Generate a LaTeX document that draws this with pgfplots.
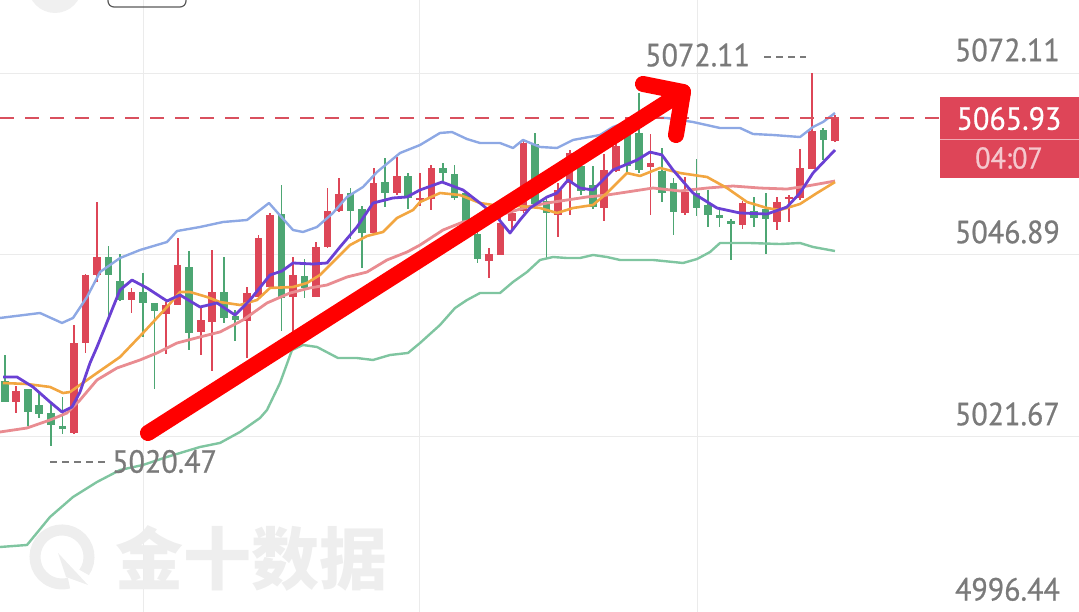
\documentclass[border=0pt]{standalone}
\usepackage{pgfplots}
\pgfplotsset{compat=1.18}
\usepackage{pgfplotstable}
\usepackage{fontspec}
\setmainfont{PT Sans}[FakeBold=0]
\newfontfamily\lab{PT Sans}[FakeBold=0.7]
\newfontfamily\cjk{Noto Sans CJK SC}

\definecolor{cRed}{HTML}{DD4657}
\definecolor{cGreen}{HTML}{4DA673}
\definecolor{cUpper}{HTML}{8DA8E4}
\definecolor{cLower}{HTML}{7FC5A0}
\definecolor{cMid}{HTML}{E98C91}
\definecolor{cMaFive}{HTML}{6A40D4}
\definecolor{cMaTen}{HTML}{F2A640}
\definecolor{cGrid}{HTML}{EBEBEB}
\definecolor{cLabel}{HTML}{7A7A7A}
\definecolor{cBox}{HTML}{DE4558}
\definecolor{cDash}{HTML}{D9505E}
\definecolor{cWm}{HTML}{EEEEEE}

\newcommand\num[1]{\scalebox{0.94}[1]{#1}}

% candles: index, open, high, low, close
\pgfplotstableread{
i O H L C
0 5029.57 5033.03 5026.50 5026.66
1 5026.66 5028.87 5025.13 5028.18
2 5028.32 5028.45 5023.33 5025.13
3 5026.24 5028.18 5024.44 5024.99
4 5024.99 5026.52 5020.47 5023.33
5 5023.33 5027.35 5022.22 5022.91
6 5022.22 5037.19 5022.10 5034.69
7 5034.69 5044.30 5033.31 5044.12
8 5044.12 5054.23 5043.15 5046.61
9 5046.61 5048.14 5038.30 5044.12
10 5043.42 5047.17 5040.65 5040.79
11 5040.79 5042.45 5038.99 5041.90
12 5041.90 5044.53 5035.66 5040.37
13 5040.24 5040.40 5028.46 5039.13
14 5038.85 5040.37 5033.17 5040.10
15 5040.10 5049.38 5040.00 5045.64
16 5045.36 5047.58 5033.86 5036.22
17 5036.22 5039.68 5033.03 5037.88
18 5037.60 5047.72 5030.95 5041.76
19 5041.90 5046.61 5037.47 5038.30
20 5038.44 5039.27 5034.97 5037.88
21 5037.88 5042.59 5032.75 5041.76
22 5041.21 5049.80 5041.10 5049.38
23 5042.59 5052.85 5042.50 5052.57
24 5052.71 5056.73 5036.49 5041.07
25 5041.07 5046.61 5035.80 5044.12
26 5044.12 5046.47 5041.07 5042.45
27 5041.21 5048.69 5041.10 5048.14
28 5048.14 5056.31 5048.00 5053.12
29 5053.12 5057.70 5052.99 5055.48
30 5055.62 5056.31 5049.24 5053.12
31 5053.26 5053.82 5045.23 5049.94
32 5049.94 5059.08 5049.80 5057.00
33 5057.00 5060.61 5053.82 5055.48
34 5055.48 5060.61 5055.34 5057.84
35 5057.84 5058.39 5053.40 5054.79
36 5054.51 5058.39 5053.82 5054.79
37 5054.65 5059.36 5053.12 5059.08
38 5058.95 5059.64 5057.00 5058.25
39 5058.25 5059.36 5054.51 5054.93
40 5055.62 5055.90 5049.66 5049.94
41 5049.94 5050.35 5045.78 5046.47
42 5046.20 5047.86 5043.70 5047.17
43 5047.03 5052.43 5046.95 5051.46
44 5051.74 5053.54 5050.35 5052.85
45 5053.12 5063.10 5052.85 5062.41
46 5062.41 5063.93 5053.82 5054.09
47 5054.51 5055.20 5046.61 5052.85
48 5052.43 5056.87 5049.38 5055.90
49 5057.00 5061.44 5052.43 5061.16
50 5059.36 5061.44 5055.20 5055.90
51 5056.59 5059.36 5053.40 5053.54
52 5053.40 5061.02 5051.74 5058.67
53 5058.67 5064.63 5058.39 5062.13
54 5064.21 5066.01 5058.39 5059.36
55 5063.80 5069.34 5058.25 5058.67
56 5059.22 5063.80 5052.57 5059.78
57 5058.67 5061.86 5054.37 5055.62
58 5056.87 5057.56 5049.66 5052.85
59 5052.71 5057.70 5052.43 5055.62
60 5055.62 5060.33 5052.43 5053.54
61 5053.82 5055.90 5050.77 5052.43
62 5052.43 5053.12 5050.77 5052.02
63 5051.74 5051.88 5046.20 5051.32
64 5051.18 5054.51 5050.63 5054.23
65 5053.12 5054.93 5050.77 5052.02
66 5053.40 5055.62 5047.17 5052.02
67 5051.46 5054.93 5050.35 5054.23
68 5054.65 5055.20 5051.46 5054.93
69 5054.79 5061.58 5054.51 5058.95
70 5058.95 5072.11 5058.90 5064.21
71 5064.21 5064.49 5060.05 5062.83
72 5062.83 5066.29 5062.55 5065.93
}\candles

% Bollinger upper band
\pgfplotstableread{
x y
0 5038.16
40 5038.85
62 5037.47
73 5038.16
87 5041.07
100 5044.53
120 5046.47
140 5047.58
167 5048.69
177 5050.21
200 5050.77
223 5051.46
247 5051.74
269 5054.09
293 5050.35
303 5050.08
317 5050.77
333 5052.71
347 5054.93
363 5056.31
377 5058.39
400 5061.02
420 5062.13
440 5063.80
452 5063.93
467 5062.96
480 5062.41
500 5062.41
513 5061.72
523 5062.83
540 5061.86
557 5061.72
573 5062.83
600 5063.52
613 5064.63
640 5066.01
667 5065.87
693 5065.32
720 5064.49
740 5064.49
753 5063.66
773 5063.52
800 5063.24
813 5064.63
823 5065.32
835 5066.57
}\bandup

% Bollinger middle line
\pgfplotstableread{
x y
0 5022.36
27 5022.91
50 5024.02
67 5024.99
80 5026.79
97 5029.57
117 5031.23
140 5032.34
157 5033.31
177 5034.69
200 5035.53
220 5036.22
243 5037.88
267 5040.24
290 5041.62
310 5042.32
327 5042.73
347 5043.84
367 5044.53
387 5046.20
407 5047.30
420 5048.27
443 5050.35
463 5051.46
483 5052.02
507 5052.71
527 5053.54
547 5054.09
567 5054.51
587 5054.93
607 5055.20
627 5055.62
653 5056.17
680 5055.76
707 5056.17
733 5056.45
760 5056.17
787 5056.03
807 5056.45
835 5057.14
}\bandmid

% Bollinger lower band
\pgfplotstableread{
x y
0 5006.42
27 5006.70
50 5010.58
73 5013.35
97 5015.43
120 5017.09
143 5017.79
167 5018.90
200 5020.28
220 5020.84
240 5022.36
260 5024.30
267 5025.41
280 5029.15
292 5033.72
303 5034.42
317 5034.14
338 5032.61
357 5032.61
373 5032.34
390 5033.03
408 5033.31
420 5034.69
440 5037.19
455 5039.54
467 5040.65
480 5041.62
500 5041.62
513 5043.15
527 5044.53
540 5046.20
553 5046.61
567 5046.47
580 5046.47
593 5046.89
607 5046.61
620 5046.20
653 5046.20
683 5045.78
697 5046.33
710 5047.30
720 5048.55
750 5048.55
780 5048.41
800 5048.55
813 5048.00
835 5047.44
}\bandlow

% MA10
\pgfplotstableread{
x y
3 5029.15
27 5029.01
50 5028.60
63 5027.76
70 5027.90
97 5030.54
120 5032.75
143 5036.08
167 5039.68
180 5041.76
190 5041.76
207 5041.07
220 5040.37
240 5039.96
257 5040.65
270 5042.32
293 5042.45
307 5043.01
320 5044.12
333 5045.92
350 5048.27
367 5049.52
383 5050.08
397 5052.02
413 5053.12
420 5054.23
440 5055.48
460 5055.20
480 5054.09
500 5053.68
520 5053.68
540 5053.40
557 5052.71
573 5053.40
593 5053.82
607 5055.48
620 5057.28
627 5058.25
640 5057.84
660 5058.95
680 5058.25
707 5057.70
727 5056.17
747 5054.23
767 5053.40
780 5053.12
800 5053.96
817 5055.48
835 5057.00
}\maten

% MA5
\pgfplotstableread{
x y
3 5029.98
17 5029.98
33 5028.60
50 5026.52
62 5025.13
72 5025.82
80 5027.90
90 5031.92
97 5034.14
120 5042.04
132 5043.42
147 5042.32
167 5040.51
180 5041.35
200 5039.68
217 5040.24
235 5038.57
250 5040.65
270 5044.12
282 5044.67
293 5045.78
313 5045.64
327 5045.78
340 5048.00
357 5050.77
373 5054.09
393 5054.79
407 5054.93
420 5055.90
442 5057.00
463 5055.90
480 5054.09
497 5052.15
510 5049.94
520 5051.74
530 5053.40
547 5054.93
557 5055.48
568 5057.28
580 5056.17
593 5055.90
613 5058.67
637 5060.05
650 5061.16
662 5060.75
673 5058.67
693 5055.48
717 5053.40
740 5052.71
767 5052.57
787 5053.54
800 5055.48
813 5058.25
835 5061.44
}\mafive

\pgfplotsset{
  candle/.style={only marks, mark=none, mark size=0pt,
    mark options={draw opacity=0, fill opacity=0},
    error bars/y dir=both, error bars/y explicit, error bars/error mark=none,
    error bars/error bar style={line width=#1}},
}

\begin{document}
\begin{tikzpicture}
\begin{axis}[
    width=1079pt, height=611pt, scale only axis,
    xmin=0, xmax=1079, ymin=4997.55, ymax=5082.23,
    hide axis,
  ]
  % grid
  \draw[cGrid, line width=1pt] (axis cs:0,5072.11) -- (axis cs:1079,5072.11);
  \draw[cGrid, line width=1pt] (axis cs:0,5046.89) -- (axis cs:1079,5046.89);
  \draw[cGrid, line width=1pt] (axis cs:0,5021.67) -- (axis cs:1079,5021.67);
  \draw[cGrid, line width=1pt] (axis cs:143,4990) -- (axis cs:143,5090);
  \draw[cGrid, line width=1pt] (axis cs:419,4990) -- (axis cs:419,5090);
  \draw[cGrid, line width=1pt] (axis cs:697,4990) -- (axis cs:697,5090);

  % top controls, cut off
  \fill[black!6] (axis cs:55,5084.17) circle[radius=27pt];
  \draw[black!65, line width=1.2pt, rounded corners=6pt]
    (axis cs:108,5086) rectangle (axis cs:186,5081.26);

  % watermark
  \draw[cWm, line width=11pt] (axis cs:62,5005.04) ++(-35:27pt)
    arc[start angle=-35, end angle=285, radius=27pt];
  \fill[cWm] (axis cs:62,5005.04) ++(-4pt,4pt) -- ++(30pt,-32pt) -- ++(-22pt,8pt) -- cycle;
  \node[cWm, font=\cjk\bfseries\fontsize{68}{68}\selectfont]
    at (axis cs:251,5004.90) {金十数据};

  % wicks and bodies
  \addplot[candle=1.7pt, error bars/error bar style={draw=cRed},
    restrict expr to domain={\thisrow{C}-\thisrow{O}}{0:100}]
    table[x expr=4.7+11.53*\thisrow{i}, y expr=(\thisrow{H}+\thisrow{L})/2,
      y error expr=(\thisrow{H}-\thisrow{L})/2] {\candles};
  \addplot[candle=7.6pt, error bars/error bar style={draw=cRed},
    restrict expr to domain={\thisrow{C}-\thisrow{O}}{0:100}]
    table[x expr=4.7+11.53*\thisrow{i}, y expr=(\thisrow{O}+\thisrow{C})/2,
      y error expr={max(abs(\thisrow{C}-\thisrow{O})/2,0.12)}] {\candles};
  \addplot[candle=1.7pt, error bars/error bar style={draw=cGreen},
    restrict expr to domain={\thisrow{C}-\thisrow{O}}{-100:0}]
    table[x expr=4.7+11.53*\thisrow{i}, y expr=(\thisrow{H}+\thisrow{L})/2,
      y error expr=(\thisrow{H}-\thisrow{L})/2] {\candles};
  \addplot[candle=7.6pt, error bars/error bar style={draw=cGreen},
    restrict expr to domain={\thisrow{C}-\thisrow{O}}{-100:0}]
    table[x expr=4.7+11.53*\thisrow{i}, y expr=(\thisrow{O}+\thisrow{C})/2,
      y error expr={max(abs(\thisrow{C}-\thisrow{O})/2,0.12)}] {\candles};

  % bands and averages
  \addplot[cUpper, line width=2.4pt, line join=round, mark=none] table {\bandup};
  \addplot[cLower, line width=2.4pt, line join=round, mark=none] table {\bandlow};
  \addplot[cMid, line width=2.8pt, line join=round, mark=none] table {\bandmid};
  \addplot[cMaTen, line width=2.6pt, line join=round, mark=none] table {\maten};
  \addplot[cMaFive, line width=2.8pt, line join=round, mark=none] table {\mafive};

  % last price line
  \draw[cDash, line width=2pt, dash pattern=on 14pt off 11pt]
    (axis cs:0,5065.93) -- (axis cs:940,5065.93);

  % trend arrow
  \draw[red, line width=16pt, line cap=round, line join=round]
    (axis cs:148,5022.22) -- (axis cs:683,5069.48);
  \draw[red, line width=16pt, line cap=round, line join=round]
    (axis cs:643,5070.59) -- (axis cs:683,5069.48) -- (axis cs:676,5063.52);

  % high / low marks
  \node[cLabel, anchor=west, inner sep=0pt, font=\lab\fontsize{32}{38}\selectfont]
    at (axis cs:645,5074.60) {\num{5072.11}};
  \draw[cLabel, line width=2pt, dash pattern=on 7pt off 5pt]
    (axis cs:764,5074.33) -- (axis cs:806,5074.33);
  \draw[cLabel, line width=2pt, dash pattern=on 7pt off 5pt]
    (axis cs:50,5018.20) -- (axis cs:108,5018.20);
  \node[cLabel, anchor=west, inner sep=0pt, font=\lab\fontsize{32}{38}\selectfont]
    at (axis cs:112,5018.27) {\num{5020.47}};

  % price scale
  \node[cLabel, anchor=east, inner sep=0pt, font=\lab\fontsize{32}{38}\selectfont]
    at (axis cs:1060,5075.30) {\num{5072.11}};
  \node[cLabel, anchor=east, inner sep=0pt, font=\lab\fontsize{32}{38}\selectfont]
    at (axis cs:1060,5050.08) {\num{5046.89}};
  \node[cLabel, anchor=east, inner sep=0pt, font=\lab\fontsize{32}{38}\selectfont]
    at (axis cs:1060,5024.85) {\num{5021.67}};
  \node[cLabel, anchor=east, inner sep=0pt, font=\lab\fontsize{32}{38}\selectfont]
    at (axis cs:1060,5000.55) {\num{4996.44}};

  % last price tag
  \fill[cBox] (axis cs:940,5068.78) rectangle (axis cs:1079,5057.56);
  \draw[white!55!cBox, line width=1pt] (axis cs:940,5062.96) -- (axis cs:1079,5062.96);
  \node[white, inner sep=0pt, font=\lab\fontsize{32}{38}\selectfont]
    at (axis cs:1009,5065.80) {\num{5065.93}};
  \node[white!70!cBox, inner sep=0pt, font=\lab\fontsize{30}{36}\selectfont]
    at (axis cs:1009,5060.33) {\num{04:07}};
\end{axis}
\pgfresetboundingbox
\useasboundingbox (current axis.south west) rectangle (current axis.north east);
\end{tikzpicture}
\end{document}
